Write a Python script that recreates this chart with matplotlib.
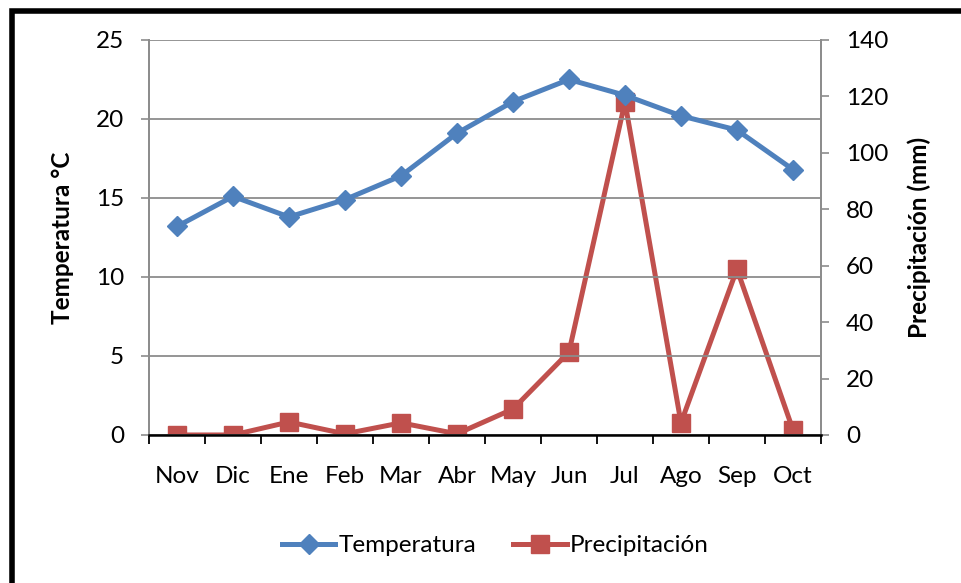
import matplotlib
matplotlib.use('Agg')
import matplotlib.pyplot as plt
from matplotlib.patches import Rectangle

# DATA
months = ["Nov", "Dic", "Ene", "Feb", "Mar", "Abr", "May", "Jun", "Jul", "Ago", "Sep", "Oct"]
temperatura = [13.2, 15.1, 13.8, 14.9, 16.4, 19.1, 21.1, 22.5, 21.5, 20.2, 19.3, 16.8]
precipitacion = [0.0, 0.0, 4.6, 0.4, 4.3, 0.4, 9.2, 29.4, 118.0, 4.3, 58.8, 1.8]

plt.rcParams['font.family'] = ['Lato', 'DejaVu Sans']
FS = 17.5

fig = plt.figure(figsize=(9.62, 5.83), dpi=100)
ax = fig.add_axes([0.1549, 0.2539, 0.6985, 0.6775])
ax2 = ax.twinx()

x = list(range(len(months)))

# gridlines
ax.set_ylim(0, 25)
ax.set_yticks([0, 5, 10, 15, 20, 25])
ax.yaxis.grid(True, color='#8c8c8c', linewidth=1.3)
ax.set_axisbelow(True)

l1, = ax.plot(x, temperatura, color='#4F81BD', linewidth=3.6, marker='D',
              markersize=10, label='Temperatura', zorder=3)
l2, = ax2.plot(x, precipitacion, color='#C0504D', linewidth=3.6, marker='s',
               markersize=13, label='Precipitación', zorder=3)
ax2.set_ylim(0, 140)
ax2.set_yticks(range(0, 141, 20))

ax.set_xlim(-0.5, len(months) - 0.5)
ax.set_xticks(x)
ax.set_xticklabels(months)
ax.set_xticks([i - 0.5 for i in range(len(months) + 1)], minor=True)
ax.tick_params(axis='x', which='major', length=0, pad=22, labelsize=FS)
ax.tick_params(axis='x', which='minor', length=6.5, width=1.3, color='black', direction='out')

ax.tick_params(axis='y', length=6, width=1.2, color='#8c8c8c', labelsize=FS, pad=12)
ax2.tick_params(axis='y', length=6, width=1.2, color='#8c8c8c', labelsize=FS, pad=12)

for a in (ax, ax2):
    a.spines['top'].set_visible(False)
    a.spines['left'].set_color('#8c8c8c')
    a.spines['right'].set_color('#8c8c8c')
    a.spines['left'].set_linewidth(1.3)
    a.spines['right'].set_linewidth(1.3)
    a.spines['bottom'].set_color('black')
    a.spines['bottom'].set_linewidth(1.8)
ax.set_zorder(ax2.get_zorder() + 1)
ax.patch.set_visible(False)
ax2.spines['bottom'].set_visible(False)

ax.set_ylabel('Temperatura °C', fontsize=17.5, fontweight='bold', labelpad=16)
ax2.set_ylabel('Precipitación (mm)', fontsize=17.5, fontweight='bold', labelpad=14)

fig.legend([l1, l2], ['Temperatura', 'Precipitación'], loc='center',
           bbox_to_anchor=(0.515, 0.064), ncol=2, frameon=False, fontsize=FS,
           handlelength=2.2, columnspacing=1.5, handletextpad=0.15)

# outer frame of the chart
fig.patches.append(Rectangle((0.0125, -0.05), 1.2, 1.031, transform=fig.transFigure,
                             fill=False, edgecolor='black', linewidth=4))

fig.savefig('out.png', dpi=100)
